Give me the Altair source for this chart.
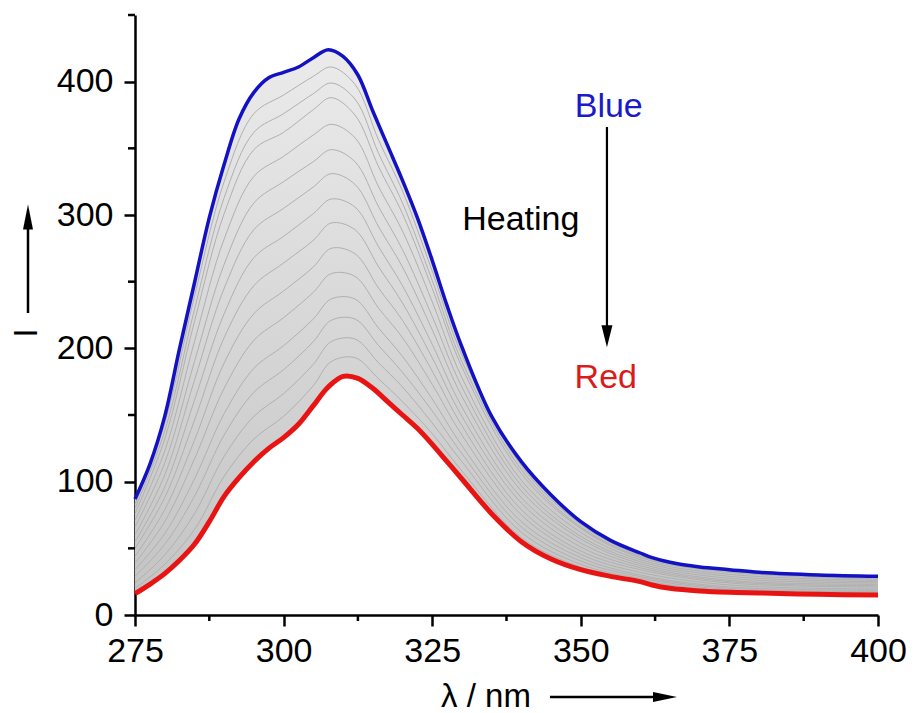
import altair as alt
import pandas as pd

# ---- data ----
WAVELENGTH = [275, 277.5, 280, 282.5, 285, 287.5, 290, 292.5, 295, 297.5, 300, 302.5,
              305, 307.5, 310, 312.5, 315, 317.5, 320, 322.5, 325, 327.5, 330, 335,
              340, 345, 350, 355, 360, 362, 365, 370, 375, 380, 390, 400]
BLUE = [87, 113, 149, 200, 249, 298, 338, 372, 392, 403, 407, 411,
        418, 424, 419, 405, 378, 352, 326, 298, 266, 232, 201, 149,
        115, 90, 70, 56, 46.5, 43, 39.5, 36, 34, 32, 30, 29]
RED = [16, 23, 31, 41, 53, 70, 89, 103, 115, 125, 133, 143,
       157, 171, 179, 177.5, 170, 160, 150, 140, 128, 115, 102, 76,
       55, 42, 34, 29, 25, 22.5, 20, 18, 17, 16.5, 15.5, 15]

GRAY_WAVELENGTH = [275, 280, 285, 290, 295, 300, 305, 308, 312, 316, 320, 325, 330, 340, 350, 360, 375, 400]
GRAY_A = [83, 144, 239, 325, 376, 390, 404, 411, 398, 356, 318, 258, 195, 112, 68, 45, 33, 28]
GRAY_B = [80, 138, 229, 313, 362, 376, 391, 399, 387, 346, 309, 251, 190, 109, 66, 44, 32.5, 27.5]
GRAY_C = [76, 132, 220, 301, 349, 362, 379, 388, 375, 336, 301, 245, 186, 106, 65, 43, 32, 27]
GRAY_D = [71, 123, 205, 282, 329, 344, 360, 368, 358, 321, 288, 235, 178, 101, 62, 41.5, 30.5, 26]
GRAY_E = [66, 114, 190, 263, 309, 325, 340, 349, 340, 306, 274, 224, 171, 97, 59, 40, 29, 25]
GRAY_F = [60, 105, 176, 245, 289, 305, 321, 331, 323, 291, 261, 214, 164, 93, 57, 38.5, 27.5, 24]
GRAY_G = [55, 96, 161, 226, 268, 284, 301, 312, 306, 276, 247, 203, 156, 88, 54, 37, 26, 23]
GRAY_H = [50, 88, 146, 208, 247, 264, 281, 294, 289, 261, 234, 193, 149, 84, 51, 35.5, 25, 22]
GRAY_I = [44, 79, 131, 189, 226, 243, 261, 275, 271, 245, 221, 183, 142, 79, 48, 34, 24, 21]
GRAY_J = [39, 70, 117, 170, 206, 223, 242, 256, 254, 230, 208, 173, 135, 75, 45.5, 32, 22.5, 19.5]
GRAY_K = [34, 61, 102, 151, 185, 202, 222, 237, 237, 215, 194, 162, 127, 70, 43, 30, 21, 18.5]
GRAY_L = [29, 53, 89, 135, 167, 184, 205, 221, 222, 202, 182, 153, 121, 66, 40.5, 28.8, 20, 17.5]
GRAY_M = [24, 45, 76, 119, 149, 166, 188, 205, 207, 189, 171, 144, 115, 62, 38, 27.5, 19, 16.5]
GRAY_N = [20, 38, 64, 104, 132, 149, 172, 190, 193, 177, 160, 136, 108, 58, 36, 26, 18, 16]

X_TICKS = [275, 300, 325, 350, 375, 400]
X_MINOR = [287.5, 312.5, 337.5, 362.5, 387.5]
Y_TICKS = [0, 100, 200, 300, 400]
Y_MINOR = [50, 150, 250, 350, 450]

ANNOT_LABELS = ["Blue", "Heating", "Red"]
ANNOT_X = [354.7, 339.9, 354.2]
ANNOT_Y = [373.7, 289, 170.4]
ANNOT_COLORS = ["#1a1ac8", "#000000", "#d81c1c"]
ARROW_X = 354.4
ARROW_TOP = 366
ARROW_BOTTOM = 214
ARROW_HEAD = 209

FONT = "Liberation Sans"

band = pd.DataFrame({"wl": WAVELENGTH, "blue": BLUE, "red": RED})
gray_rows = []
for name, vals in [("a", GRAY_A), ("b", GRAY_B), ("c", GRAY_C), ("d", GRAY_D),
                   ("e", GRAY_E), ("f", GRAY_F), ("g", GRAY_G), ("h", GRAY_H),
                   ("i", GRAY_I), ("j", GRAY_J), ("k", GRAY_K), ("l", GRAY_L),
                   ("m", GRAY_M), ("n", GRAY_N)]:
    for w, v in zip(GRAY_WAVELENGTH, vals):
        gray_rows.append({"wl": w, "I": v, "curve": name})
gray = pd.DataFrame(gray_rows)

xs = alt.Scale(domain=[275, 400], nice=False, zero=False)
ys = alt.Scale(domain=[0, 450], nice=False, zero=False)
AX = alt.Axis(values=X_TICKS, labelPadding=8, format="d", title=None,
              labelFlush=False, labelOverlap=False)
AY = alt.Axis(values=Y_TICKS, labelPadding=11, format="d", title=None,
              labelFlush=False, labelOverlap=False)


def X(field):
    return alt.X(field, scale=xs, axis=AX, title=None)


def Y(field):
    return alt.Y(field, scale=ys, axis=AY, title=None)


gradient = alt.Gradient(
    gradient="linear", x1=0, x2=0, y1=0, y2=1,
    stops=[alt.GradientStop(color="#ebebeb", offset=0),
           alt.GradientStop(color="#c4c4c4", offset=1)])

INTERP = "catmull-rom"

area = alt.Chart(band).mark_area(interpolate=INTERP, color=gradient).encode(
    x=X("wl:Q"), y=Y("red:Q"), y2="blue:Q",
)

gray_lines = alt.Chart(gray).mark_line(interpolate=INTERP, color="#b0b0b0", strokeWidth=1).encode(
    x=X("wl:Q"), y=Y("I:Q"), detail="curve:N",
)

red_line = alt.Chart(band).mark_line(interpolate=INTERP, color="#e81414", strokeWidth=5).encode(
    x=X("wl:Q"), y=Y("red:Q"),
)
blue_line = alt.Chart(band).mark_line(interpolate=INTERP, color="#1212c4", strokeWidth=3.5).encode(
    x=X("wl:Q"), y=Y("blue:Q"),
)

xminor = alt.Chart(pd.DataFrame({"v": X_MINOR})).mark_rule(color="black", strokeWidth=2.5).encode(
    x=X("v:Q"), y=alt.value(600), y2=alt.value(606))
yminor = alt.Chart(pd.DataFrame({"v": Y_MINOR})).mark_rule(color="black", strokeWidth=2.5).encode(
    y=Y("v:Q"), x=alt.value(0), x2=alt.value(-7))

annot = pd.DataFrame({"lab": ANNOT_LABELS, "x": ANNOT_X, "y": ANNOT_Y, "c": ANNOT_COLORS})
texts = alt.Chart(annot).mark_text(font=FONT, fontSize=34, align="center", baseline="alphabetic").encode(
    x=X("x:Q"), y=Y("y:Q"), text="lab:N", color=alt.Color("c:N", scale=None),
)

arrow_df = pd.DataFrame({"x": [ARROW_X], "y1": [ARROW_TOP], "y2": [ARROW_BOTTOM], "h": [ARROW_HEAD]})
heat_line = alt.Chart(arrow_df).mark_rule(color="black", strokeWidth=2.2).encode(
    x=X("x:Q"), y=Y("y1:Q"), y2="y2:Q")
heat_head = alt.Chart(arrow_df).mark_point(
    shape="M-0.5,-1L0.5,-1L0,1Z", filled=True, opacity=1, color="black", size=484).encode(
    x=X("x:Q"), y=Y("h:Q"))

one = pd.DataFrame({"k": [0]})
x_title = alt.Chart(one).mark_text(text="λ / nm", font=FONT, fontSize=33, align="center",
                                   baseline="alphabetic", color="black").encode(
    x=alt.value(351), y=alt.value(692))
x_arrow = alt.Chart(one).mark_rule(color="black", strokeWidth=2.5).encode(
    x=alt.value(415), x2=alt.value(522), y=alt.value(682))
x_head = alt.Chart(one).mark_point(shape="M-1,-0.42L1,0L-1,0.42Z", filled=True, opacity=1,
                                   color="black", size=576).encode(
    x=alt.value(530), y=alt.value(682))
y_title = alt.Chart(one).mark_text(text="I", font=FONT, fontSize=34, align="center",
                                   baseline="middle", angle=270, color="black").encode(
    x=alt.value(-108), y=alt.value(318))
y_arrow = alt.Chart(one).mark_rule(color="black", strokeWidth=2.5).encode(
    x=alt.value(-107), y=alt.value(298), y2=alt.value(208))
y_head = alt.Chart(one).mark_point(shape="M-0.4,1L0,-1L0.4,1Z", filled=True, opacity=1,
                                   color="black", size=625).encode(
    x=alt.value(-107), y=alt.value(202))

chart = alt.layer(
    area, gray_lines, red_line, blue_line, xminor, yminor, texts, heat_line, heat_head,
    x_title, x_arrow, x_head, y_title, y_arrow, y_head,
).properties(
    width=743, height=600,
    padding={"left": 135, "top": 15, "right": 36, "bottom": 98},
    autosize=alt.AutoSizeParams(type="none"),
    background="white",
).configure_view(stroke=None).configure_axis(
    grid=False, domainColor="black", domainWidth=2.5, tickColor="black", tickWidth=2.5,
    tickSize=11, labelFont=FONT, labelFontSize=34, labelColor="black",
)

chart.save("out.html", embed_options={"renderer": "svg", "actions": False})
